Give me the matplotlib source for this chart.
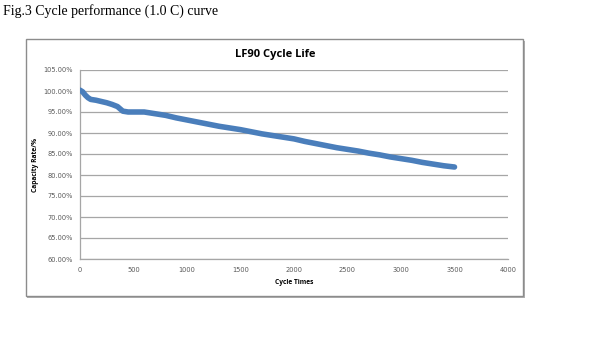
import matplotlib
matplotlib.use("Agg")
import matplotlib.pyplot as plt
from matplotlib.patches import Rectangle
from matplotlib.ticker import FuncFormatter

# cycle life readings (cycles, capacity %)
cycles = [0, 25, 50, 75, 100, 150, 200, 250, 300, 350, 400, 450, 500, 600, 700,
          800, 900, 1000, 1100, 1200, 1300, 1400, 1500, 1600, 1700, 1800, 1900,
          2000, 2100, 2200, 2300, 2400, 2500, 2600, 2700, 2800, 2900, 3000, 3100,
          3200, 3300, 3400, 3500]
capacity = [100.2, 99.8, 99.0, 98.4, 98.0, 97.8, 97.5, 97.2, 96.8, 96.3, 95.2,
            95.0, 95.0, 95.0, 94.6, 94.2, 93.6, 93.1, 92.6, 92.1, 91.6, 91.2,
            90.8, 90.3, 89.8, 89.4, 89.0, 88.6, 88.0, 87.5, 87.0, 86.5, 86.1,
            85.7, 85.2, 84.8, 84.3, 83.9, 83.5, 83.0, 82.6, 82.2, 81.9]
x_ticks = [0, 500, 1000, 1500, 2000, 2500, 3000, 3500, 4000]
y_ticks = [60, 65, 70, 75, 80, 85, 90, 95, 100, 105]

W, H = 600, 357
fig = plt.figure(figsize=(W / 100, H / 100), dpi=100)

def fx(px):
    return px / W

def fy(py):
    return 1 - py / H

# outer chart frame with a little shadow, kept below the axes
fig.patches.append(Rectangle((fx(27), fy(298)), fx(525) - fx(27), fy(41) - fy(298),
                             transform=fig.transFigure, facecolor="#b0b0b0",
                             edgecolor="none", zorder=-2))
fig.patches.append(Rectangle((fx(26), fy(296)), fx(523) - fx(26), fy(39) - fy(296),
                             transform=fig.transFigure, facecolor="white",
                             edgecolor="#8c8c8c", linewidth=1.0, zorder=-1))

fig.text(fx(3), fy(11), "Fig.3 Cycle performance (1.0 C) curve", family="Liberation Serif",
         fontsize=10, ha="left", va="center")

ax = fig.add_axes([fx(80), fy(259), fx(508) - fx(80), fy(70) - fy(259)])
ax.set_facecolor("none")
ax.plot(cycles, capacity, color="#4a7ebb", linewidth=4, solid_capstyle="round",
        solid_joinstyle="round", zorder=3)

ax.set_xlim(0, 4000)
ax.set_ylim(60, 105)
ax.set_xticks(x_ticks)
ax.set_yticks(y_ticks)
ax.yaxis.set_major_formatter(FuncFormatter(lambda v, p: f"{v:.2f}%"))
ax.grid(axis="y", color="#a6a6a6", linewidth=0.9)
ax.tick_params(length=0, labelsize=4.8, labelcolor="#595959")
ax.tick_params(axis="y", pad=5)
ax.tick_params(axis="x", pad=6)
for side in ["top", "right"]:
    ax.spines[side].set_visible(False)
for side in ["left", "bottom"]:
    ax.spines[side].set_color("#a6a6a6")
    ax.spines[side].set_linewidth(0.9)

ax.set_xlabel("Cycle Times", family="Open Sans", fontsize=4.8, fontweight="bold", labelpad=4)
ax.set_ylabel("Capacity Rate/%", family="Open Sans", fontsize=4.8, fontweight="bold", labelpad=3)
fig.text(fx(275), fy(54), "LF90 Cycle Life", family="Open Sans", fontsize=8,
         fontweight="bold", ha="center", va="center")

fig.savefig("out.png", dpi=100)
